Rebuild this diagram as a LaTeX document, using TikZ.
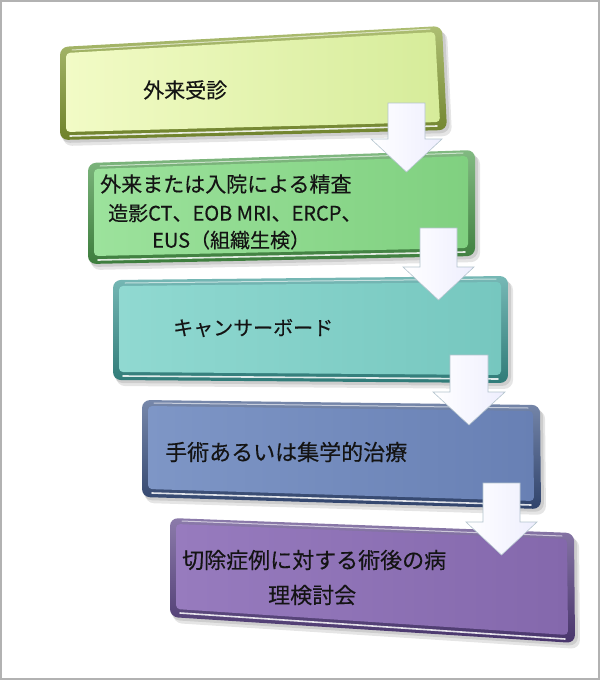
\documentclass[tikz,border=0pt]{standalone}
\usepackage{fontspec}
\newfontfamily\jp[FakeBold=0.35]{Noto Sans CJK JP}
\usetikzlibrary{calc}
\definecolor{gAd}{HTML}{8AA236}\definecolor{gAl}{HTML}{F2FBC6}\definecolor{gAr}{HTML}{D6EC9A}
\definecolor{gBd}{HTML}{4C9C4C}\definecolor{gBl}{HTML}{9CE29C}\definecolor{gBr}{HTML}{80D080}
\definecolor{gCd}{HTML}{3C9A96}\definecolor{gCl}{HTML}{90D9D1}\definecolor{gCr}{HTML}{76C7BF}
\definecolor{gDd}{HTML}{3C5486}\definecolor{gDl}{HTML}{7E96C6}\definecolor{gDr}{HTML}{6880B4}
\definecolor{gEd}{HTML}{5A4286}\definecolor{gEl}{HTML}{977BBE}\definecolor{gEr}{HTML}{8468AC}
\definecolor{arrEdge}{HTML}{B4C4CE}
\newcommand\bevbox[6]{%
  \coordinate (#1tl) at #2; \coordinate (#1tr) at #3;
  \coordinate (#1br) at #4; \coordinate (#1bl) at #5;
  \fill[black,opacity=0.10,rounded corners=9pt] ($(#1tl)+(3,5)$) -- ($(#1tr)+(5,5)$) -- ($(#1br)+(5,6)$) -- ($(#1bl)+(3,6)$) -- cycle;
  \fill[black,opacity=0.10,rounded corners=9pt] ($(#1tl)+(1,3)$) -- ($(#1tr)+(3,3)$) -- ($(#1br)+(3,3)$) -- ($(#1bl)+(1,3)$) -- cycle;
  \shade[top color=#6d!70, bottom color=#6d!80!black, rounded corners=8pt] (#1tl) -- (#1tr) -- (#1br) -- (#1bl) -- cycle;
  \shade[left color=#6l, right color=#6r, rounded corners=4pt] ($(#1tl)+(6,6)$) -- ($(#1tr)+(-7,6)$) -- ($(#1br)+(-7,-8)$) -- ($(#1bl)+(6,-8)$) -- cycle;
  \draw[white,opacity=0.85,line width=1.6pt,line cap=round] ($(#1bl)+(10,-4)$) -- ($(#1br)+(-10,-4)$);
  \draw[white,opacity=0.6,line width=1pt,line cap=round] ($(#1tl)+(12,3)$) -- ($(#1tr)+(-12,3)$);
}
\newcommand\downarr[5]{% name, xl, xr, ytop, ytip
  \coordinate (#1a) at (#2,#4); \coordinate (#1b) at (#3,#4);
  \coordinate (#1t) at ({(#2+#3)/2},#5);
  \shade[left color=white, right color=gray!10!blue!7, draw=arrEdge, line width=0.6pt]
    (#1a) -- (#1b) -- (#3,{#5-33}) -- ({#3+17},{#5-33}) -- (#1t) -- ({#2-17},{#5-33}) -- (#2,{#5-33}) -- cycle;
}
\begin{document}
\begin{tikzpicture}[x=1pt,y=-1pt,font=\jp,
  lbl/.style={anchor=west,inner sep=0pt,text=black!92}]
\useasboundingbox (0,0) rectangle (600,680);
\fill[white] (0,0) rectangle (600,680);
\draw[gray!60,line width=2pt] (1,1) rectangle (599,679);
% boxes
\bevbox{b1}{(60,47)}{(442,26)}{(447,130)}{(60,140)}{gA}
\bevbox{b2}{(88,163)}{(475,150)}{(475,256)}{(88,264)}{gB}
\bevbox{b3}{(113,280)}{(508,276)}{(508,383)}{(113,380)}{gC}
\bevbox{b4}{(142,400)}{(540,405)}{(541,509)}{(142,497)}{gD}
\bevbox{b5}{(170,518)}{(574,533)}{(575,643)}{(170,617)}{gE}
% texts
\node[lbl,font=\jp\fontsize{21}{25}\selectfont] (t1) at (143,90) {外来受診};
\node[lbl,font=\jp\fontsize{21}{25}\selectfont] (t2a) at (100,184) {外来または入院による精査};
\node[lbl,font=\jp\fontsize{20}{24}\selectfont] (t2b) at (108,213) {造影CT、EOB MRI、ERCP、};
\node[lbl,font=\jp\fontsize{20}{24}\selectfont] (t2c) at (152,240) {EUS（組織生検）};
\node[lbl,font=\jp\fontsize{20}{24}\selectfont] (t3) at (173,328) {キャンサーボード};
\node[lbl,font=\jp\fontsize{22}{26}\selectfont] (t4) at (165,452) {手術あるいは集学的治療};
\node[lbl,font=\jp\fontsize{22}{26}\selectfont] (t5a) at (182,560) {切除症例に対する術後の病};
\node[lbl,font=\jp\fontsize{22}{26}\selectfont] (t5b) at (268,595) {理検討会};
% arrows
\downarr{a1}{388}{425}{103}{172}
\downarr{a2}{420}{457}{228}{300}
\downarr{a3}{450}{488}{355}{425}
\downarr{a4}{483}{520}{483}{555}
\end{tikzpicture}
\end{document}
